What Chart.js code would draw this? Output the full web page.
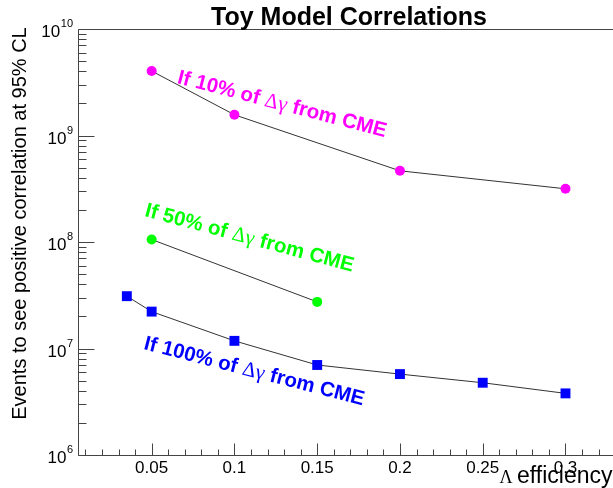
<!DOCTYPE html>
<html>
<head>
<meta charset="utf-8">
<script src="https://cdn.jsdelivr.net/npm/chart.js@4.4.0/dist/chart.umd.min.js"></script>
<style>
html,body{margin:0;padding:0;background:#fff;overflow:hidden;}
#wrap{width:613px;height:488px;}
</style>
</head>
<body>
<div id="wrap"><canvas id="toy" width="613" height="488"></canvas></div>
<script>
// values (x = Lambda efficiency, y = events)
let eff10 = [0.05, 0.1, 0.2, 0.3];
let events10 = [4.03e9, 1.565e9, 4.66e8, 3.16e8];
let eff50 = [0.05, 0.15];
let events50 = [1.055e8, 2.74e7];
let eff100 = [0.035, 0.05, 0.1, 0.15, 0.2, 0.25, 0.3];
let events100 = [3.10e7, 2.22e7, 1.18e7, 7.0e6, 5.75e6, 4.77e6, 3.79e6];

let xTicks = [0.05, 0.1, 0.15, 0.2, 0.25, 0.3];
let xTickLabels = ['0.05', '0.1', '0.15', '0.2', '0.25', '0.3'];
let yDecades = [6, 7, 8, 9, 10];

const SANS = '"Liberation Sans", Arial, Helvetica, sans-serif';
const SERIF = '"Liberation Serif", "Times New Roman", serif';

function pts(xs, ys){
    return xs.map(function(x, i){ return {x: x, y: ys[i]}; });
}

// rotated text made of several pieces (fonts differ for the greek part)
function drawRot(ctx, x, y, deg, parts){
    ctx.save();
    ctx.translate(x, y);
    ctx.rotate(deg * Math.PI / 180);
    ctx.textBaseline = 'alphabetic';
    ctx.textAlign = 'left';
    let cx = 0;
    parts.forEach(function(p){
        ctx.font = p.font;
        ctx.fillStyle = p.color;
        ctx.fillText(p.t, cx, 0);
        cx += ctx.measureText(p.t).width;
    });
    ctx.restore();
}

function label(ctx, x, y, deg, pct, color){
    drawRot(ctx, x, y, deg, [
        {t: 'If ' + pct + ' of ', font: 'bold 20.5px ' + SANS, color: color},
        {t: '\u0394\u03B3', font: '21px ' + SERIF, color: color},
        {t: ' from CME', font: 'bold 20.5px ' + SANS, color: color}
    ]);
}

const rootFrame = {
    id: 'rootFrame',
    afterDraw: function(chart){
        let ctx = chart.ctx;
        let xs = chart.scales.x, ys = chart.scales.y;
        let a = chart.chartArea;
        let L = Math.round(a.left) + 0.5, T = Math.round(a.top) + 0.5, B = Math.round(a.bottom) + 0.5;

        ctx.save();
        ctx.strokeStyle = '#444';
        ctx.lineWidth = 1;
        ctx.beginPath();
        ctx.moveTo(a.right + 5, T); ctx.lineTo(L, T); ctx.lineTo(L, B); ctx.lineTo(a.right + 5, B);
        ctx.stroke();

        // x ticks (inside, from the bottom axis)
        ctx.beginPath();
        for (let i = 1; i <= 32; i++) {
            let px = Math.round(xs.getPixelForValue(i / 100)) + 0.5;
            let len = (i % 5 === 0) ? 12 : 6;
            ctx.moveTo(px, B); ctx.lineTo(px, B - len);
        }
        // y ticks (log)
        for (let d = 6; d <= 10; d++) {
            for (let m = 1; m <= 9; m++) {
                if (d === 10 && m > 1) break;
                let py = Math.round(ys.getPixelForValue(m * Math.pow(10, d))) + 0.5;
                let len = (m === 1) ? 16 : 8;
                ctx.moveTo(L, py); ctx.lineTo(L + len, py);
            }
        }
        ctx.stroke();

        // x tick labels
        ctx.fillStyle = '#000';
        ctx.font = '17px ' + SANS;
        ctx.textAlign = 'center';
        ctx.textBaseline = 'alphabetic';
        xTicks.forEach(function(v, i){
            ctx.fillText(xTickLabels[i], xs.getPixelForValue(v), 473);
        });

        // y tick labels 10^n
        yDecades.forEach(function(d){
            let py = ys.getPixelForValue(Math.pow(10, d));
            ctx.font = '11px ' + SANS;
            let e = String(d);
            let ew = ctx.measureText(e).width;
            let ex = 73 - ew;
            ctx.textAlign = 'left';
            ctx.fillText(e, ex, py - 2);
            ctx.font = '17px ' + SANS;
            ctx.textAlign = 'right';
            ctx.fillText('10', ex - 0.5, py + 8);
        });

        // title
        ctx.font = 'bold 25px ' + SANS;
        ctx.textAlign = 'center';
        ctx.fillText('Toy Model Correlations', 349, 25);

        // y axis title
        ctx.save();
        ctx.translate(26, 223.5);
        ctx.rotate(-Math.PI / 2);
        ctx.font = '20px ' + SANS;
        ctx.textAlign = 'center';
        ctx.fillText('Events to see positive correlation at 95% CL', 0, 0);
        ctx.restore();

        // x axis title
        ctx.textAlign = 'left';
        ctx.font = '18px ' + SERIF;
        ctx.fillText('\u039B', 499.5, 483);
        ctx.font = '23px ' + SANS;
        ctx.fillText('efficiency', 517, 483);

        // curve labels
        label(ctx, 176.5, 83, 14.6, '10%', '#ff00ff');
        label(ctx, 144, 216, 15, '50%', '#00ff00');
        label(ctx, 143, 349, 14.4, '100%', '#0000ff');
        ctx.restore();
    }
};

let ctx = document.getElementById('toy').getContext('2d');

new Chart(ctx, {
    type: 'scatter',
    data: {
        datasets: [{
            label: 'If 10% of \u0394\u03B3 from CME',
            data: pts(eff10, events10),
            showLine: true,
            borderColor: '#333',
            borderWidth: 1,
            pointStyle: 'circle',
            pointRadius: 5,
            pointBackgroundColor: '#ff00ff',
            pointBorderColor: '#ff00ff',
            pointBorderWidth: 0
        }, {
            label: 'If 50% of \u0394\u03B3 from CME',
            data: pts(eff50, events50),
            showLine: true,
            borderColor: '#333',
            borderWidth: 1,
            pointStyle: 'circle',
            pointRadius: 5,
            pointBackgroundColor: '#00ff00',
            pointBorderColor: '#00ff00',
            pointBorderWidth: 0
        }, {
            label: 'If 100% of \u0394\u03B3 from CME',
            data: pts(eff100, events100),
            showLine: true,
            borderColor: '#333',
            borderWidth: 1,
            pointStyle: 'rect',
            pointRadius: 7,
            pointBackgroundColor: '#0000ff',
            pointBorderColor: '#0000ff',
            pointBorderWidth: 0
        }]
    },
    options: {
        responsive: false,
        animation: false,
        layout: {
            autoPadding: false,
            padding: {left: 78, top: 29, right: 0, bottom: 33}
        },
        plugins: {
            legend: {display: false},
            tooltip: {enabled: false},
            title: {display: false}
        },
        scales: {
            x: {
                type: 'linear',
                display: false,
                min: 0.0055,
                max: 0.3287
            },
            y: {
                type: 'logarithmic',
                display: false,
                min: 1e6,
                max: 1e10
            }
        }
    },
    plugins: [rootFrame]
});
</script>
</body>
</html>
